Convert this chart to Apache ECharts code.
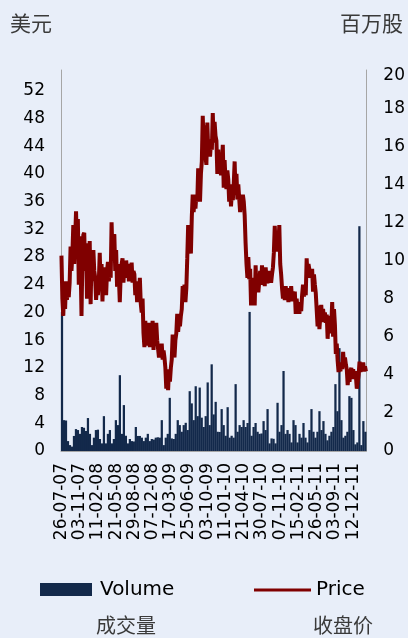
<!DOCTYPE html>
<html>
<head>
<meta charset="utf-8">
<script src="https://cdn.jsdelivr.net/npm/echarts@6/dist/echarts.min.js"></script>
<style>
html,body{margin:0;padding:0;background:#e8eef9;}
#c{width:408px;height:638px;}
</style>
</head>
<body>
<div id="c"></div>
<script>
// X-axis tick labels (every 100 days; data is sampled every 5 days)
const tickLabels = ['26-07-07','03-11-07','11-02-08','21-05-08','29-08-08','07-12-08','17-03-09','25-06-09','03-10-09','11-01-10','21-04-10','30-07-10','07-11-10','15-02-11','26-05-11','03-09-11','12-12-11'];

// Closing price (USD), one reading every 5 calendar days
const price = [
28.2,22,
19.5,23.8,20.5,
24.5,21.8,23.8,22.2,24.3,
29.5,26,28.5,
32.6,27,30.5,
34.6,29.5,33.5,24,31,27,
19.5,28,31.2,
31.5,26,29.5,22,30,25,
30.3,21.2,28,24.5,29,26,
25,21.8,24,22.5,24.5,
28.6,23.5,27,
21.6,26.5,23,25,22.5,26,
27.3,24.5,26.5,25,
33,28,31,
31.3,26,29,23.7,27,25,
21.5,25.5,27,
27.8,24.3,26.5,25,27.5,26,
27,24.5,26,25.2,27.2,24.3,26,
25.5,22.5,24.5,21.5,23.8,22.5,
25,21.3,20,22,17,15,
18.8,15.2,17.5,16,18.5,15,17,16.2,
18.8,14.6,17.5,15.5,18.5,16,
15.8,13.5,15,14,15.5,13.2,14.5,13.5,
12,9,10.5,
8.8,11.8,10,12,
13.2,16.8,14.5,13.5,16,17,
19.8,17.2,19,18,19.5,
20.5,23.8,22,24,21.5,23.5,
27.8,32.6,29,31,28.5,
33.8,37,34.5,36.5,35,37,
36,40.8,38,36,40,
41.8,48.4,44,47,42.5,
41.3,47.4,43.5,45,42.5,44.5,
43.5,48.8,44.5,47.5,45.5,
44.8,40,43.5,41,42.5,39.8,41.5,
44.2,38,42,39,37.8,
40.5,39.2,36,38.5,35.3,37.5,36.2,38.5,
41.8,37,40,36.3,38.5,
38.4,34.5,36.5,35,37,36,
34,30,27,25,28,
24.8,26.3,21,24,22,25,21,
26.8,23,25.5,22.9,24.5,26,24,
26.8,24,25.5,23.8,26.5,25,24.2,26,24.5,25.8,24.3,25.5,26.5,
28.6,32.5,29.5,31.5,28.8,30,
32.6,27,25.5,23.5,22,
23.5,21.8,23.8,22.3,23,21.5,23.5,22,23.8,21.6,23,22.5,
23,19.8,22,20.5,21.5,19.8,21,20.2,22.5,
24,22.3,23.5,22.5,
27.8,25,27,26.2,25,24.8,
26.3,23,25.5,24,22.8,
23,18,21,17.6,19.5,
21.1,18.6,20.5,19,20,18.5,
19.7,16.2,18.5,17,19.5,
18,21.5,16.5,20.5,
18.2,14,15.5,
13,11.4,12.5,11.5,12.8,
11.8,14.3,12.3,13.5,12.5,
11.8,9.5,11,10,11.5,
12,10.4,11.8,10.8,11.5,
10.8,9,10,11,
12.9,11.4,12.5,11.6,12.8,11.5,12.2,
11.5
];

// Volume (million shares), evenly spaced bars
const volume = [
7.3,1.62,1.6,0.52,0.31,0.23,0.79,1.15,1.1,0.9,1.26,1.22,1.05,1.73,0.9,0.31,0.7,1.1,1.12,
0.63,0.4,1.83,0.4,0.9,1.1,0.4,0.63,1.62,1.36,3.98,0.9,2.41,0.8,0.4,0.63,0.52,0.5,1.26,0.79,
0.79,0.7,0.52,0.7,0.9,0.52,0.63,0.6,0.7,0.72,0.7,
1.62,0.31,0.7,0.9,2.79,0.66,0.63,0.9,1.62,1.36,1.01,1.36,1.48,1.1,3.14,2.5,1.62,3.4,1.83,3.33,1.75,1.26,1.83,3.6,1.36,4.55,1.92,
2.58,1.01,1.0,2.2,1.36,0.8,2.3,0.7,0.8,0.7,3.51,1.01,1.36,1.26,1.62,1.26,1.47,7.3,0.8,1.26,1.47,1.01,
0.9,0.92,1.57,1.1,2.2,0.4,0.66,0.64,
0.4,2.53,1.01,1.36,4.2,0.9,1.1,0.9,0.45,1.62,1.36,0.45,0.9,0.7,1.47,0.7,0.45,1.1,2.2,1.01,
0.7,1.01,2.09,1.1,1.57,0.9,0.56,0.8,1.01,1.26,3.51,2.09,5.4,1.62,0.7,0.8,1.01,2.88,2.79,1.1,
0.35,0.45,11.8,0.31,1.57,1.01
];

// category dates (every 5 days from the first tick date)
const categories = price.map((_, i) => {
  const d = new Date(Date.UTC(2007, 6, 26) + i * 5 * 86400000);
  const p = n => String(n).padStart(2, '0');
  return p(d.getUTCDate()) + '-' + p(d.getUTCMonth() + 1) + '-' + p(d.getUTCFullYear() % 100);
});
const volCats = volume.map((_, i) => 'v' + i);

const FONT = 'DejaVu Sans';
const CJK = '"Noto Sans CJK SC"';
const AXIS_GRAY = '#a6a6a6';
const NAVY = '#13294b';
const MAROON = '#800000';

const chart = echarts.init(document.getElementById('c'), null, {renderer: 'canvas'});
chart.setOption({
  backgroundColor: '#e8eef9',
  animation: false,
  aria: {enabled: false, decal: {show: false}},
  grid: {left: 61, right: 38, top: 70, bottom: 187, containLabel: false},
  xAxis: [
    {
      type: 'category', data: categories, gridIndex: 0,
      axisLine: {show: true, lineStyle: {color: AXIS_GRAY, width: 1}},
      axisTick: {show: false},
      axisLabel: {
        interval: 19, rotate: 90, margin: 12,
        fontFamily: FONT, fontSize: 17, color: '#000',
        formatter: (v, idx) => (idx % 20 === 0 && tickLabels[idx / 20]) ? tickLabels[idx / 20] : v
      },
      splitLine: {show: false}
    },
    {
      type: 'category', data: volCats, gridIndex: 0, show: false
    }
  ],
  yAxis: [
    {
      type: 'value', min: 0, max: 55, interval: 4, position: 'left',
      axisLine: {show: true, lineStyle: {color: AXIS_GRAY, width: 1}},
      axisTick: {show: false},
      splitLine: {show: false},
      axisLabel: {showMaxLabel: false, margin: 16, fontFamily: FONT, fontSize: 17, color: '#000'}
    },
    {
      type: 'value', min: 0, max: 20, interval: 2, position: 'right',
      axisLine: {show: true, lineStyle: {color: AXIS_GRAY, width: 1}},
      axisTick: {show: false},
      splitLine: {show: false},
      axisLabel: {
        margin: 17, fontFamily: FONT, fontSize: 17, color: '#000',
        formatter: v => v === 20 ? '{t|20}' : String(v),
        rich: {t: {fontFamily: FONT, fontSize: 17, color: '#000', padding: [12, 0, 0, 0]}}
      }
    }
  ],
  series: [
    {
      name: 'Volume', type: 'custom',
      xAxisIndex: 1, yAxisIndex: 1,
      data: volume.map((v, i) => [i, v]),
      encode: {x: 0, y: 1},
      renderItem: (params, api) => {
        const top = api.coord([api.value(0), api.value(1)]);
        const base = api.coord([api.value(0), 0]);
        const w = api.size([1, 0])[0] + 0.25;
        return {
          type: 'rect',
          shape: {x: base[0] - w / 2, y: top[1], width: w, height: base[1] - top[1]},
          style: {fill: NAVY}
        };
      },
      z: 1
    },
    {
      name: 'Price', type: 'line', data: price,
      xAxisIndex: 0, yAxisIndex: 0,
      showSymbol: false, symbol: 'none',
      lineStyle: {color: MAROON, width: 4},
      itemStyle: {color: MAROON},
      emphasis: {disabled: true},
      z: 3
    }
  ],
  graphic: [
    {type: 'text', left: 10, top: 13, style: {text: '美元', fontFamily: CJK, fontSize: 21, fill: '#3a3a3a'}},
    {type: 'text', left: 340, top: 13, style: {text: '百万股', fontFamily: CJK, fontSize: 21, fill: '#3a3a3a'}},
    {type: 'text', left: 96, top: 615, style: {text: '成交量', fontFamily: CJK, fontSize: 20, fill: '#3a3a3a'}},
    {type: 'text', left: 313, top: 615, style: {text: '收盘价', fontFamily: CJK, fontSize: 20, fill: '#3a3a3a'}},
    // legend
    {type: 'rect', shape: {x: 40, y: 583, width: 52, height: 13}, style: {fill: NAVY}},
    {type: 'text', x: 100, y: 590, style: {text: 'Volume', fontFamily: FONT, fontSize: 20, fill: '#000', verticalAlign: 'middle'}},
    {type: 'line', shape: {x1: 254, y1: 590, x2: 311, y2: 590}, style: {stroke: MAROON, lineWidth: 3}},
    {type: 'text', x: 316, y: 590, style: {text: 'Price', fontFamily: FONT, fontSize: 20, fill: '#000', verticalAlign: 'middle'}}
  ]
});
</script>
</body>
</html>
